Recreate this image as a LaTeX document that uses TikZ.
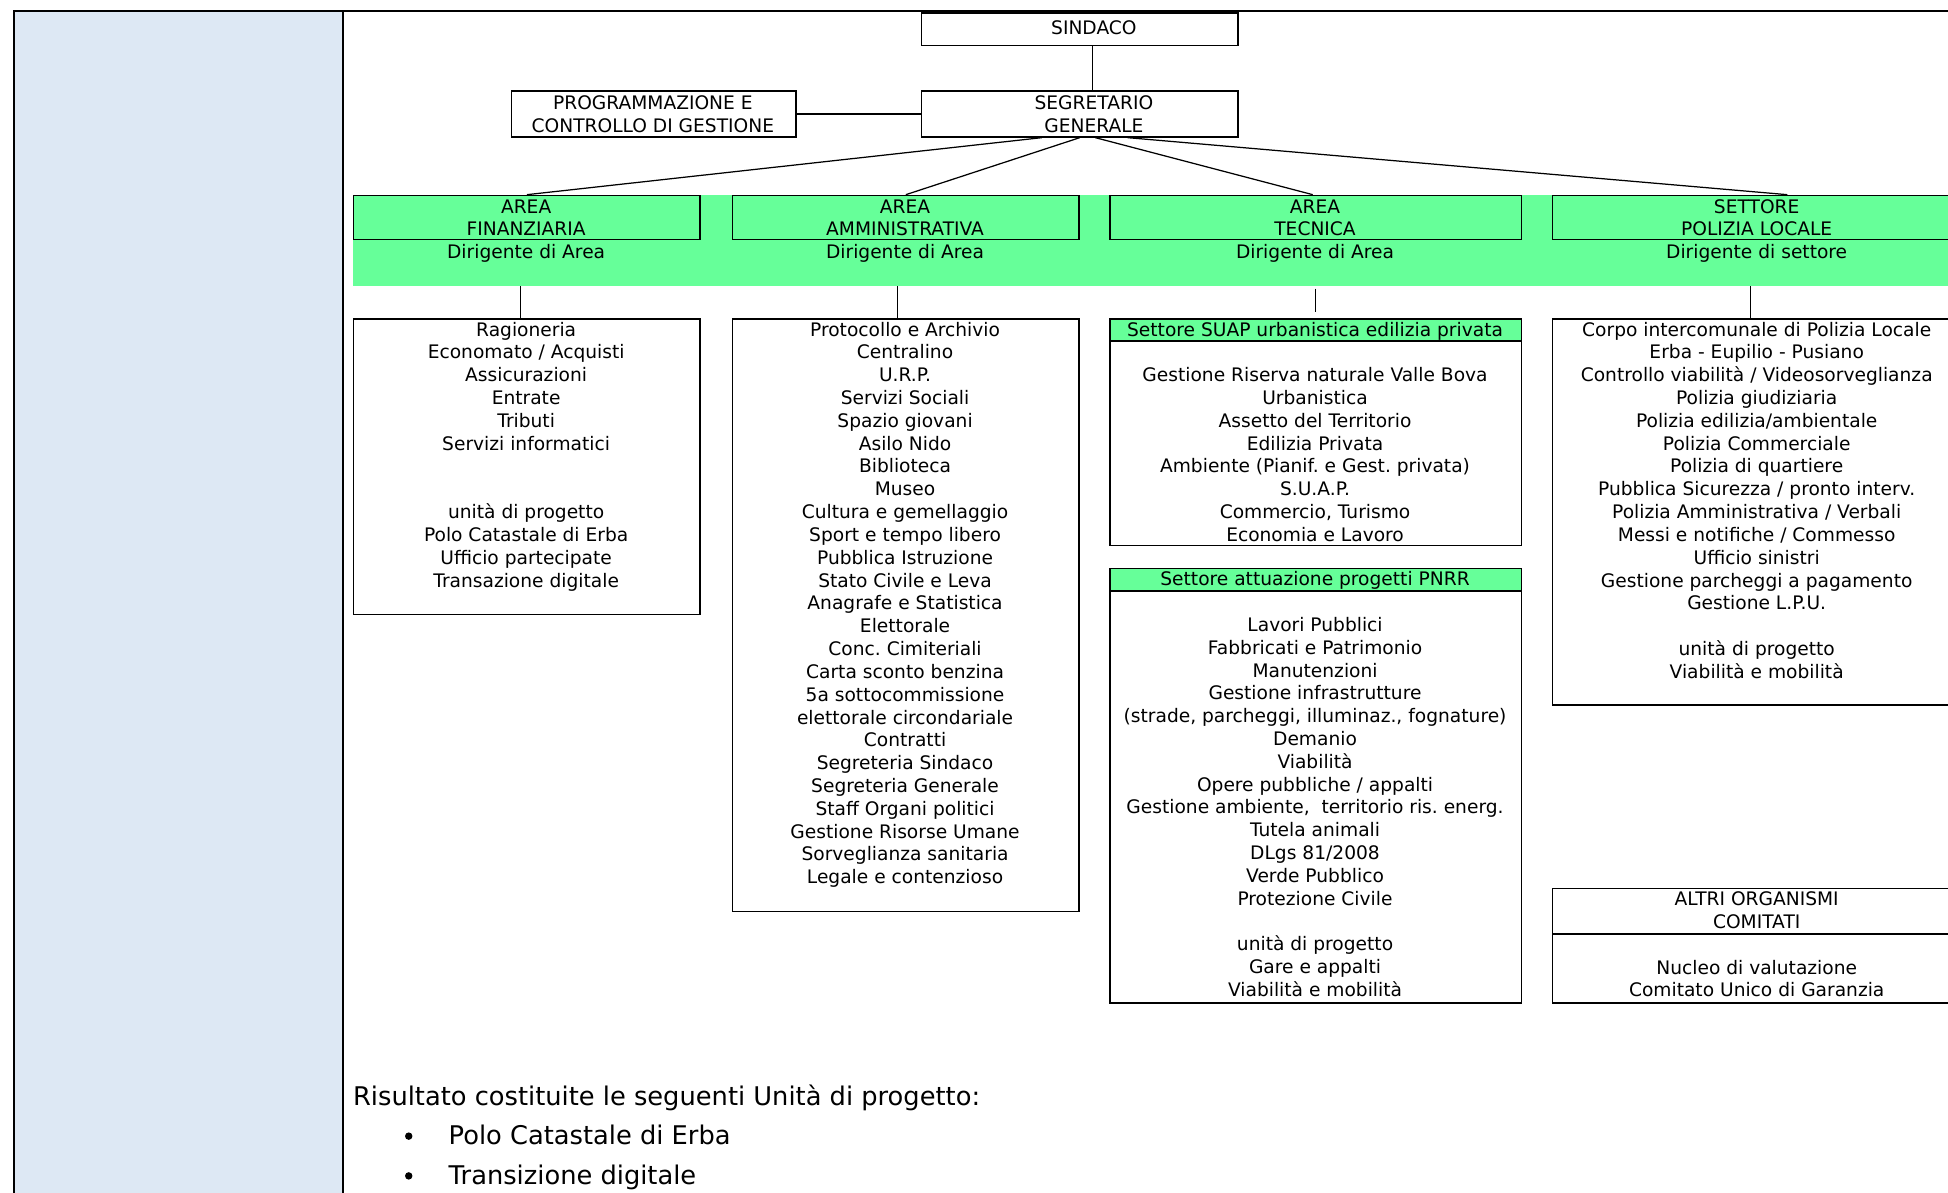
\documentclass[tikz,border=0pt]{standalone}
\usepackage{fontspec}
\setmainfont{DejaVu Sans}
\usetikzlibrary{calc}
\frenchspacing
\definecolor{bandgreen}{RGB}{102,255,153}
\definecolor{colblue}{RGB}{221,232,244}
\newcommand\boxlines[4]{\foreach \tl [count=\ti] in {#4} {\node[txt] (#1-\ti) at ({#2},{#3+18.37*(\ti-1)}) {\tl};}}
\begin{document}
\begin{tikzpicture}[x=1pt,y=-1pt,
  txt/.style={anchor=base,inner sep=0pt,font=\fontsize{15}{18.37}\selectfont\frenchspacing},
  big/.style={anchor=base west,inner sep=0pt,font=\fontsize{20.7}{24}\selectfont\frenchspacing},
  frame/.style={line width=1.4pt},
  box/.style={draw,line width=1.3pt,inner sep=0pt,anchor=north west},
  gbox/.style={box,fill=bandgreen},
  link/.style={line width=1pt},
  stub/.style={line width=0.8pt},
  bul/.style={circle,fill=black,inner sep=0pt,minimum size=6pt}
]
\path[use as bounding box] (0,0) rectangle (1568,960);
\clip (0,0) rectangle (1568,960);
\fill[white] (0,0) rectangle (1568,960);
% page frame
\fill[colblue] (11,9) rectangle (276,970);
\draw[frame] (11,970) -- (11,9) -- (1590,9);
\draw[frame] (276,9) -- (276,970);

% top boxes
\node[box,minimum width=255pt,minimum height=26pt] (sind) at (741,10) {};
\node[box,minimum width=255pt,minimum height=37pt] (seg) at (741,72.5) {};
\node[box,minimum width=229pt,minimum height=37pt] (prog) at (411,72.5) {};
\node[txt] (sindT) at (880.5,28) {SINDACO};
\boxlines{segT}{880.5}{88}{SEGRETARIO,GENERALE}
\boxlines{progT}{525.5}{88}{PROGRAMMAZIONE E,CONTROLLO DI GESTIONE}

% green band and area boxes
\node[fill=bandgreen,inner sep=0pt,anchor=north west,minimum width=1320pt,minimum height=73.3pt] (band) at (284,156.7) {};
\node[gbox,minimum width=279pt,minimum height=35.4pt] (fin) at (284,156.7) {};
\node[gbox,minimum width=279pt,minimum height=35.4pt] (amm) at (589,156.7) {};
\node[gbox,minimum width=331pt,minimum height=35.4pt] (tec) at (893,156.7) {};
\node[gbox,minimum width=330pt,minimum height=35.4pt] (pol) at (1249,156.7) {};
\boxlines{finT}{423.5}{171.5}{AREA,FINANZIARIA,Dirigente di Area}
\boxlines{ammT}{728.5}{171.5}{AREA,AMMINISTRATIVA,Dirigente di Area}
\boxlines{tecT}{1058.5}{171.5}{AREA,TECNICA,Dirigente di Area}
\boxlines{polT}{1414}{171.5}{SETTORE,POLIZIA LOCALE,Dirigente di settore}

% list boxes
\node[box,minimum width=279pt,minimum height=238pt] (finL) at (284,256) {};
\node[box,minimum width=279pt,minimum height=477pt] (ammL) at (589,256) {};
\node[box,minimum width=331pt,minimum height=182.5pt] (suap) at (893,256) {};
\node[gbox,minimum width=331pt,minimum height=18pt] (suapH) at (893,256) {};
\node[box,minimum width=331pt,minimum height=349.5pt] (pnrr) at (893,457) {};
\node[gbox,minimum width=331pt,minimum height=18pt] (pnrrH) at (893,457) {};
\node[box,minimum width=330pt,minimum height=311pt] (polL) at (1249,256) {};
\node[box,minimum width=330pt,minimum height=92pt] (altri) at (1249,714.5) {};
\node[box,minimum width=330pt,minimum height=36.5pt] (altriH) at (1249,714.5) {};

\boxlines{finL}{423.5}{270.5}{Ragioneria,Economato / Acquisti,Assicurazioni,Entrate,Tributi,Servizi informatici,{},{},unità di progetto,Polo Catastale di Erba,Ufficio partecipate,Transazione digitale}
\boxlines{ammL}{728.5}{270.5}{Protocollo e Archivio,Centralino,U.R.P.,Servizi Sociali,Spazio giovani,Asilo Nido,Biblioteca,Museo,Cultura e gemellaggio,Sport e tempo libero,Pubblica Istruzione,Stato Civile e Leva,Anagrafe e Statistica,Elettorale,Conc. Cimiteriali,Carta sconto benzina,5a sottocommissione,elettorale circondariale,Contratti,Segreteria Sindaco,Segreteria Generale,Staff Organi politici,Gestione Risorse Umane,Sorveglianza sanitaria,Legale e contenzioso}
\boxlines{suapT}{1058.5}{270.5}{Settore SUAP urbanistica edilizia privata,{},Gestione Riserva naturale Valle Bova,Urbanistica,Assetto del Territorio,Edilizia Privata,Ambiente (Pianif. e Gest. privata),S.U.A.P.,{Commercio, Turismo},Economia e Lavoro}
\boxlines{pnrrT}{1058.5}{471.5}{Settore attuazione progetti PNRR,{},Lavori Pubblici,Fabbricati e Patrimonio,Manutenzioni,Gestione infrastrutture,{(strade, parcheggi, illuminaz., fognature)},Demanio,Viabilità,Opere pubbliche / appalti,{Gestione ambiente, \ territorio ris. energ.},Tutela animali,DLgs 81/2008,Verde Pubblico,Protezione Civile,{},unità di progetto,Gare e appalti,Viabilità e mobilità}
\boxlines{polLT}{1414}{270.5}{Corpo intercomunale di Polizia Locale,Erba - Eupilio - Pusiano,Controllo viabilità / Videosorveglianza,Polizia giudiziaria,Polizia edilizia/ambientale,Polizia Commerciale,Polizia di quartiere,Pubblica Sicurezza / pronto interv.,Polizia Amministrativa / Verbali,Messi e notifiche / Commesso,Ufficio sinistri,Gestione parcheggi a pagamento,Gestione L.P.U.,{},unità di progetto,Viabilità e mobilità}
\boxlines{altriT}{1414}{729}{ALTRI ORGANISMI,COMITATI,{},Nucleo di valutazione,Comitato Unico di Garanzia}

% connectors
\draw[link] ([xshift=10.5pt]sind.south) -- ([xshift=10.5pt]seg.north);
\draw[frame] (prog.east) -- (seg.west);
\draw[link] ([xshift=-30.5pt]seg.south) -- (fin.north);
\draw[link] (seg.south) -- (amm.north);
\draw[link] ([xshift=12.5pt]seg.south) -- ([xshift=-2.5pt]tec.north);
\draw[link] ([xshift=38.5pt]seg.south) -- ([xshift=24pt]pol.north);
\draw[stub] ([xshift=-5.5pt]finL.north) -- ([xshift=-5.5pt]finL.north |- band.south);
\draw[stub] ([xshift=-6.5pt]ammL.north) -- ([xshift=-6.5pt]ammL.north |- band.south);
\draw[stub] ($(band.south -| suap.north)+(0,2)$) -- ($(suap.north)+(0,-5)$);
\draw[stub] ([xshift=-6pt]polL.north) -- ([xshift=-6pt]polL.north |- band.south);

% bottom text
\node[big] (res) at (284,889.5) {Risultato costituite le seguenti Unità di progetto:};
\node[bul] (b1) at (329,914.5) {};
\node[bul] (b2) at (329,946.5) {};
\node[big] (u1) at (361,921.5) {Polo Catastale di Erba};
\node[big] (u2) at (361,953.5) {Transizione digitale};
\end{tikzpicture}
\end{document}
